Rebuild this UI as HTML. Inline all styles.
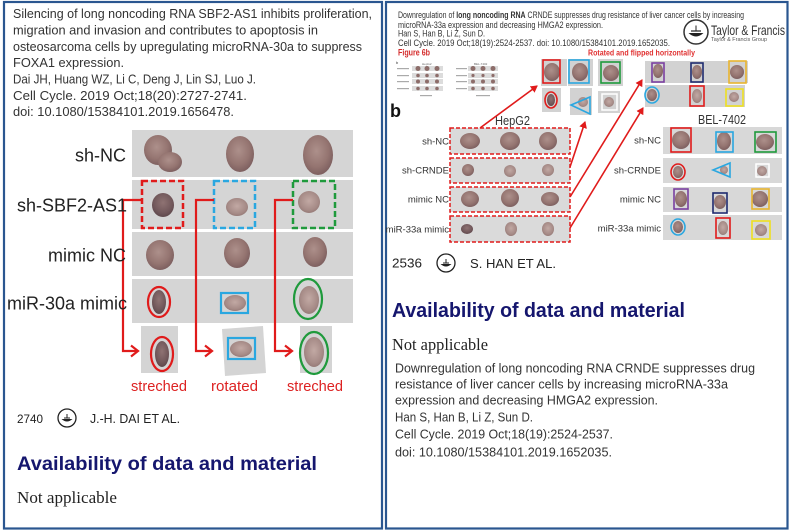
<!DOCTYPE html>
<html><head><meta charset="utf-8"><style>html,body{margin:0;padding:0;background:#fff;width:800px;height:532px;overflow:hidden}svg{display:block}</style></head><body>
<svg width="800" height="532" viewBox="0 0 800 532" xmlns="http://www.w3.org/2000/svg" font-family="'Liberation Sans', Arial, sans-serif">
<defs>
<radialGradient id="t" cx="45%" cy="40%" r="60%"><stop offset="0" stop-color="#ad908b"/><stop offset="0.65" stop-color="#957571"/><stop offset="1" stop-color="#7e6060"/></radialGradient>
<radialGradient id="tl" cx="50%" cy="45%" r="60%"><stop offset="0" stop-color="#c2a9a4"/><stop offset="0.7" stop-color="#a68b87"/><stop offset="1" stop-color="#917572"/></radialGradient>
<radialGradient id="td" cx="50%" cy="40%" r="60%"><stop offset="0" stop-color="#8f7373"/><stop offset="0.7" stop-color="#72585b"/><stop offset="1" stop-color="#5f484c"/></radialGradient>
<marker id="ah" markerWidth="8" markerHeight="8" refX="6" refY="4" orient="auto" markerUnits="userSpaceOnUse"><path d="M0,0 L7,4 L0,8 Z" fill="#e01b1b"/></marker>
</defs>
<rect width="800" height="532" fill="#fff"/>

<!-- panel borders -->
<rect x="4" y="2" width="378" height="526.5" fill="none" stroke="#2a5690" stroke-width="2.2"/>
<rect x="386" y="2" width="401.5" height="526.5" fill="none" stroke="#2a5690" stroke-width="2.2"/>

<!-- LEFT PANEL text -->
<g font-size="13" fill="#333">
<text x="13" y="18" textLength="359" lengthAdjust="spacingAndGlyphs">Silencing of long noncoding RNA SBF2-AS1 inhibits proliferation,</text>
<text x="13" y="34.5" textLength="305" lengthAdjust="spacingAndGlyphs">migration and invasion and contributes to apoptosis  in</text>
<text x="13" y="51" textLength="349" lengthAdjust="spacingAndGlyphs">osteosarcoma cells by upregulating microRNA-30a to suppress</text>
<text x="13" y="67" textLength="111" lengthAdjust="spacingAndGlyphs">FOXA1 expression.</text>
<text x="13" y="83.5" textLength="243" lengthAdjust="spacingAndGlyphs">Dai JH, Huang WZ, Li C, Deng J, Lin SJ, Luo J.</text>
<text x="13" y="100" textLength="234" lengthAdjust="spacingAndGlyphs">Cell Cycle. 2019 Oct;18(20):2727-2741.</text>
<text x="13" y="116" textLength="221" lengthAdjust="spacingAndGlyphs">doi: 10.1080/15384101.2019.1656478.</text>
</g>

<!-- left gray rows -->
<g fill="#d5d5d5">
<rect x="132" y="130" width="221" height="47"/>
<rect x="132" y="180" width="221" height="49"/>
<rect x="132" y="232" width="221" height="44"/>
<rect x="132" y="279" width="221" height="44"/>
</g>
<!-- row 1 blobs -->
<ellipse cx="158" cy="150" rx="14" ry="15" fill="url(#t)"/>
<ellipse cx="170" cy="162" rx="12" ry="10" fill="url(#t)"/>
<ellipse cx="240" cy="154" rx="14" ry="18" fill="url(#t)"/>
<ellipse cx="318" cy="155" rx="15" ry="20" fill="url(#t)"/>
<!-- row 2 blobs -->
<ellipse cx="163" cy="205" rx="11" ry="12" fill="url(#td)"/>
<ellipse cx="237" cy="207" rx="11" ry="9" fill="url(#tl)"/>
<ellipse cx="309" cy="202" rx="11" ry="11" fill="url(#tl)"/>
<!-- row 3 blobs -->
<ellipse cx="160" cy="255" rx="14" ry="15" fill="url(#t)"/>
<ellipse cx="237" cy="253" rx="13" ry="15" fill="url(#t)"/>
<ellipse cx="315" cy="252" rx="12" ry="15" fill="url(#t)"/>
<!-- row 4 blobs -->
<ellipse cx="159" cy="302" rx="7" ry="12" fill="url(#td)"/>
<ellipse cx="235" cy="303" rx="11" ry="8" fill="url(#tl)"/>
<ellipse cx="309" cy="300" rx="10" ry="14" fill="url(#tl)"/>

<!-- dashed boxes -->
<g fill="none" stroke-width="2.5" stroke-dasharray="6 3">
<rect x="142" y="181" width="41" height="47" stroke="#e01b1b"/>
<rect x="214" y="181" width="41" height="47" stroke="#2aa7e0"/>
<rect x="293" y="181" width="42" height="47" stroke="#1f9a3c"/>
</g>
<!-- row 4 annotations -->
<ellipse cx="159" cy="302" rx="11" ry="15" fill="none" stroke="#e01b1b" stroke-width="2.2"/>
<rect x="221" y="293" width="27" height="20" fill="none" stroke="#2aa7e0" stroke-width="2.2"/>
<ellipse cx="308" cy="299" rx="14" ry="20" fill="none" stroke="#1f9a3c" stroke-width="2.2"/>

<!-- stretched tiles -->
<rect x="141" y="326" width="37" height="47" fill="#d4d4d4"/>
<polygon points="222,329 263,326 266,373 225,376" fill="#d4d4d4"/>
<rect x="300" y="326" width="32" height="47" fill="#d4d4d4"/>
<ellipse cx="162" cy="354" rx="7" ry="13" fill="url(#td)"/>
<ellipse cx="241" cy="349" rx="11" ry="8" fill="url(#tl)"/>
<ellipse cx="314" cy="352" rx="10" ry="15" fill="url(#tl)"/>
<ellipse cx="162" cy="354" rx="11" ry="17" fill="none" stroke="#e01b1b" stroke-width="2.2"/>
<rect x="228" y="338" width="27" height="21" fill="none" stroke="#2aa7e0" stroke-width="2.2"/>
<ellipse cx="314" cy="353" rx="14" ry="21" fill="none" stroke="#1f9a3c" stroke-width="2.2"/>

<!-- left arrows -->
<g fill="none" stroke="#e01b1b" stroke-width="2.2">
<path d="M142 200 H123 V351 H137"/><path d="M131 345.5 L138 351 L131 356.5"/>
<path d="M214 200 H196 V351 H211"/><path d="M205 345.5 L212 351 L205 356.5"/>
<path d="M293 200 H275 V351 H291"/><path d="M285 345.5 L292 351 L285 356.5"/>
</g>

<!-- left labels -->
<g font-size="18" fill="#222" text-anchor="end">
<text x="126" y="161.5">sh-NC</text>
<text x="127" y="211.5">sh-SBF2-AS1</text>
<text x="126" y="261.5">mimic NC</text>
<text x="127" y="309.5">miR-30a mimic</text>
</g>
<g font-size="15" fill="#dd2222">
<text x="131" y="391" textLength="56" lengthAdjust="spacingAndGlyphs">streched</text>
<text x="211" y="391" textLength="47" lengthAdjust="spacingAndGlyphs">rotated</text>
<text x="287" y="391" textLength="56" lengthAdjust="spacingAndGlyphs">streched</text>
</g>

<!-- left footer -->
<text x="17" y="423" font-size="12" fill="#222" textLength="26" lengthAdjust="spacingAndGlyphs">2740</text>
<g transform="translate(67,418)">
<circle r="9" fill="none" stroke="#222" stroke-width="1.3"/>
<path d="M-5.5 1 Q0 6 5.5 1 Z" fill="#222"/><path d="M-3 0 L3 0" stroke="#222" stroke-width="1"/><path d="M0 -4 V0" stroke="#222" stroke-width="1"/>
</g>
<text x="90" y="423" font-size="13" fill="#222" textLength="90" lengthAdjust="spacingAndGlyphs">J.-H. DAI ET AL.</text>
<text x="17" y="470" font-size="19" font-weight="bold" fill="#15166e" textLength="300" lengthAdjust="spacingAndGlyphs">Availability of data and material</text>
<text x="17" y="503" font-size="17" fill="#222" font-family="'Liberation Serif', serif" textLength="100" lengthAdjust="spacingAndGlyphs">Not applicable</text>

<!-- RIGHT PANEL top text -->
<g font-size="9" fill="#333">
<text x="398" y="18" textLength="346" lengthAdjust="spacingAndGlyphs">Downregulation of <tspan font-weight="bold">long noncoding RNA</tspan> CRNDE suppresses drug resistance of liver cancer cells by increasing</text>
<text x="398" y="28" textLength="205" lengthAdjust="spacingAndGlyphs">microRNA-33a expression and decreasing HMGA2 expression.</text>
<text x="398" y="36.5" textLength="87" lengthAdjust="spacingAndGlyphs">Han S, Han B, Li Z, Sun D.</text>
<text x="398" y="46" textLength="272" lengthAdjust="spacingAndGlyphs">Cell Cycle. 2019 Oct;18(19):2524-2537. doi: 10.1080/15384101.2019.1652035.</text>
</g>
<text x="398" y="55.5" font-size="9" font-weight="bold" fill="#d42a2a" textLength="32" lengthAdjust="spacingAndGlyphs">Figure 6b</text>
<text x="588" y="55.5" font-size="8.5" font-weight="bold" fill="#e03030" textLength="107" lengthAdjust="spacingAndGlyphs">Rotated and flipped horizontally</text>

<!-- T&F logo -->
<g transform="translate(696,32)">
<circle r="12" fill="none" stroke="#333" stroke-width="1.5"/>
<path d="M-7.5 1 Q0 8 7.5 1 Z" fill="#222"/><path d="M-5 -1 L5 -1" stroke="#222" stroke-width="1.2"/><path d="M0 -6.5 V-1" stroke="#222" stroke-width="1"/>
</g>
<text x="711" y="35" font-size="14" fill="#333" textLength="74" lengthAdjust="spacingAndGlyphs">Taylor &amp; Francis</text>
<text x="711" y="41" font-size="5.5" fill="#555" textLength="56" lengthAdjust="spacingAndGlyphs">Taylor &amp; Francis Group</text>

<!-- mini figure 6b -->
<g>
<text x="396" y="64" font-size="4" fill="#333">b</text>
<text x="422" y="65" font-size="3" fill="#666">HepG2</text>
<text x="474" y="65" font-size="3" fill="#666">BEL-7402</text>
<g fill="#dcdcdc">
<rect x="412" y="66" width="31" height="5"/><rect x="412" y="73" width="31" height="5"/><rect x="412" y="79" width="31" height="5"/><rect x="412" y="86" width="31" height="5"/>
<rect x="468" y="66" width="30" height="5"/><rect x="468" y="73" width="30" height="5"/><rect x="468" y="79" width="30" height="5"/><rect x="468" y="86" width="30" height="5"/>
</g>
<g fill="#aaa">
<rect x="397" y="68" width="12" height="1.2"/><rect x="397" y="75" width="12" height="1.2"/><rect x="397" y="81" width="12" height="1.2"/><rect x="397" y="88" width="12" height="1.2"/>
<rect x="456" y="68" width="11" height="1.2"/><rect x="456" y="75" width="11" height="1.2"/><rect x="456" y="81" width="11" height="1.2"/><rect x="456" y="88" width="11" height="1.2"/>
<rect x="420" y="95" width="12" height="1.2"/><rect x="476" y="95" width="14" height="1.2"/>
</g>
<g fill="#8d6d6a">
<circle cx="418" cy="68.5" r="2.5"/><circle cx="427" cy="68.5" r="2.5"/><circle cx="437" cy="68.5" r="2.5"/>
<circle cx="418" cy="75.5" r="1.8"/><circle cx="427" cy="75.5" r="1.8"/><circle cx="437" cy="75.5" r="1.8"/>
<circle cx="418" cy="81.5" r="2"/><circle cx="427" cy="81.5" r="2"/><circle cx="437" cy="81.5" r="2"/>
<circle cx="418" cy="88.5" r="1.8"/><circle cx="427" cy="88.5" r="1.8"/><circle cx="437" cy="88.5" r="1.8"/>
<circle cx="473" cy="68.5" r="2.5"/><circle cx="483" cy="68.5" r="2.5"/><circle cx="493" cy="68.5" r="2.5"/>
<circle cx="473" cy="75.5" r="1.6"/><circle cx="483" cy="75.5" r="1.6"/><circle cx="493" cy="75.5" r="1.6"/>
<circle cx="473" cy="81.5" r="2"/><circle cx="483" cy="81.5" r="2"/><circle cx="493" cy="81.5" r="2"/>
<circle cx="473" cy="88.5" r="1.8"/><circle cx="483" cy="88.5" r="1.8"/><circle cx="493" cy="88.5" r="1.8"/>
</g>
</g>

<text x="390" y="117" font-size="18" font-weight="bold" fill="#111">b</text>

<!-- top zoom tiles -->
<g fill="#d2d2d2">
<rect x="541" y="59" width="26" height="27"/>
<rect x="568" y="59" width="25" height="27"/>
<rect x="598" y="59" width="25" height="27"/>
<rect x="542" y="88" width="19" height="24"/>
<rect x="570" y="88" width="22" height="27"/>
<rect x="598" y="91" width="22" height="22"/>
<rect x="645" y="61" width="103" height="22"/>
<rect x="645" y="85" width="100" height="22"/>
</g>
<rect x="602" y="94" width="15" height="16" fill="none" stroke="#fff" stroke-width="1.5"/>
<ellipse cx="552" cy="72" rx="8" ry="9" fill="url(#t)"/>
<ellipse cx="580" cy="72" rx="8" ry="9" fill="url(#t)"/>
<ellipse cx="611" cy="73" rx="8" ry="8" fill="url(#t)"/>
<ellipse cx="551" cy="100" rx="4" ry="6" fill="url(#td)"/>
<ellipse cx="583" cy="102" rx="5" ry="5" fill="url(#tl)"/>
<ellipse cx="609" cy="102" rx="5" ry="5" fill="url(#tl)"/>
<ellipse cx="658" cy="71" rx="5" ry="7" fill="url(#t)"/>
<ellipse cx="697" cy="72" rx="5" ry="7" fill="url(#t)"/>
<ellipse cx="737" cy="72" rx="7" ry="7" fill="url(#t)"/>
<ellipse cx="652" cy="95" rx="5" ry="6" fill="url(#t)"/>
<ellipse cx="697" cy="96" rx="5" ry="7" fill="url(#tl)"/>
<ellipse cx="734" cy="97" rx="5" ry="5" fill="url(#tl)"/>
<g fill="none" stroke-width="1.6">
<rect x="543" y="60" width="17" height="23" stroke="#e01b1b"/>
<rect x="569" y="60" width="20" height="23" stroke="#2aa7e0"/>
<rect x="601" y="62" width="19" height="21" stroke="#1f9a3c"/>
<ellipse cx="551" cy="100" rx="6" ry="8" stroke="#e01b1b"/>
<polygon points="571,105 590,97 590,114" stroke="#2aa7e0"/>
<rect x="652" y="63" width="12" height="19" stroke="#7a3fa0"/>
<rect x="691" y="63" width="12" height="19" stroke="#1e2a6e"/>
<rect x="729" y="61" width="17" height="22" stroke="#e8b530"/>
<ellipse cx="652" cy="95" rx="7" ry="8" stroke="#2aa7e0"/>
<rect x="690" y="86" width="14" height="20" stroke="#e01b1b"/>
<rect x="726" y="89" width="17" height="17" stroke="#eee020"/>
</g>

<text x="495" y="125" font-size="13" fill="#333" textLength="35" lengthAdjust="spacingAndGlyphs">HepG2</text>
<text x="698" y="124" font-size="13" fill="#333" textLength="48" lengthAdjust="spacingAndGlyphs">BEL-7402</text>

<!-- HepG2 rows -->
<g fill="#dadada" stroke="#e01b1b" stroke-width="1.5" stroke-dasharray="4 2">
<rect x="450" y="128" width="120" height="26"/>
<rect x="450" y="158" width="120" height="25"/>
<rect x="450" y="187" width="120" height="25"/>
<rect x="450" y="216" width="120" height="26"/>
</g>
<ellipse cx="470" cy="141" rx="10" ry="8" fill="url(#t)"/>
<ellipse cx="510" cy="141" rx="10" ry="9" fill="url(#t)"/>
<ellipse cx="548" cy="141" rx="9" ry="9" fill="url(#t)"/>
<ellipse cx="468" cy="170" rx="6" ry="6" fill="url(#t)"/>
<ellipse cx="510" cy="171" rx="6" ry="6" fill="url(#tl)"/>
<ellipse cx="548" cy="170" rx="6" ry="6" fill="url(#tl)"/>
<ellipse cx="470" cy="199" rx="9" ry="8" fill="url(#t)"/>
<ellipse cx="510" cy="198" rx="9" ry="9" fill="url(#t)"/>
<ellipse cx="550" cy="199" rx="9" ry="7" fill="url(#t)"/>
<ellipse cx="467" cy="229" rx="6" ry="5" fill="url(#td)"/>
<ellipse cx="511" cy="229" rx="6" ry="7" fill="url(#tl)"/>
<ellipse cx="548" cy="229" rx="6" ry="7" fill="url(#tl)"/>
<g font-size="9.5" fill="#333" text-anchor="end">
<text x="449" y="144.5">sh-NC</text>
<text x="449" y="173.5">sh-CRNDE</text>
<text x="449" y="202.5">mimic NC</text>
<text x="449" y="232.5">miR-33a mimic</text>
</g>

<!-- BEL rows -->
<g fill="#d8d8d8">
<rect x="663" y="127" width="119" height="27"/>
<rect x="663" y="158" width="119" height="25"/>
<rect x="663" y="187" width="119" height="25"/>
<rect x="663" y="215" width="119" height="25"/>
</g>
<rect x="756" y="164" width="13" height="13" fill="none" stroke="#fff" stroke-width="1.5"/>
<ellipse cx="681" cy="140" rx="9" ry="9" fill="url(#t)"/>
<ellipse cx="724" cy="141" rx="7" ry="9" fill="url(#t)"/>
<ellipse cx="765" cy="142" rx="9" ry="8" fill="url(#t)"/>
<ellipse cx="678" cy="172" rx="5" ry="6" fill="url(#t)"/>
<ellipse cx="724" cy="170" rx="4" ry="4" fill="url(#tl)"/>
<ellipse cx="762" cy="171" rx="5" ry="5" fill="url(#tl)"/>
<ellipse cx="681" cy="199" rx="6" ry="8" fill="url(#t)"/>
<ellipse cx="720" cy="202" rx="6" ry="7" fill="url(#t)"/>
<ellipse cx="760" cy="199" rx="8" ry="8" fill="url(#t)"/>
<ellipse cx="678" cy="227" rx="5" ry="6" fill="url(#t)"/>
<ellipse cx="723" cy="228" rx="5" ry="7" fill="url(#tl)"/>
<ellipse cx="761" cy="230" rx="6" ry="6" fill="url(#tl)"/>
<g fill="none" stroke-width="1.6">
<rect x="671" y="128" width="20" height="24" stroke="#e01b1b"/>
<rect x="716" y="132" width="17" height="20" stroke="#2aa7e0"/>
<rect x="755" y="132" width="21" height="20" stroke="#1f9a3c"/>
<ellipse cx="678" cy="172" rx="7" ry="8" stroke="#e01b1b"/>
<polygon points="713,170 730,163 730,177" stroke="#2aa7e0"/>
<rect x="674" y="189" width="14" height="20" stroke="#7a3fa0"/>
<rect x="713" y="193" width="14" height="20" stroke="#1e2a6e"/>
<rect x="752" y="189" width="17" height="20" stroke="#e8b530"/>
<ellipse cx="678" cy="227" rx="7" ry="8" stroke="#2aa7e0"/>
<rect x="716" y="218" width="14" height="20" stroke="#e01b1b"/>
<rect x="752" y="221" width="18" height="18" stroke="#eee020"/>
</g>
<g font-size="9.5" fill="#333" text-anchor="end">
<text x="661" y="143.5">sh-NC</text>
<text x="661" y="173.5">sh-CRNDE</text>
<text x="661" y="202.5">mimic NC</text>
<text x="661" y="231.5">miR-33a mimic</text>
</g>

<!-- right arrows -->
<g stroke="#e01b1b" stroke-width="1.6" fill="none" marker-end="url(#ah)">
<line x1="480" y1="128" x2="537" y2="86"/>
<line x1="570" y1="167" x2="585" y2="122"/>
<line x1="570" y1="197" x2="642" y2="80"/>
<line x1="570" y1="228" x2="643" y2="108"/>
</g>

<!-- right footer -->
<text x="392" y="267.5" font-size="13" fill="#222" textLength="30" lengthAdjust="spacingAndGlyphs">2536</text>
<g transform="translate(446,263)">
<circle r="9" fill="none" stroke="#222" stroke-width="1.3"/>
<path d="M-5.5 1 Q0 6 5.5 1 Z" fill="#222"/><path d="M-3 0 L3 0" stroke="#222" stroke-width="1"/><path d="M0 -4 V0" stroke="#222" stroke-width="1"/>
</g>
<text x="470" y="268" font-size="13" fill="#222" textLength="86" lengthAdjust="spacingAndGlyphs">S. HAN ET AL.</text>
<text x="392" y="317" font-size="20" font-weight="bold" fill="#15166e" textLength="293" lengthAdjust="spacingAndGlyphs">Availability of data and material</text>
<text x="392" y="350" font-size="17" fill="#222" font-family="'Liberation Serif', serif" textLength="96" lengthAdjust="spacingAndGlyphs">Not applicable</text>
<g font-size="13" fill="#333">
<text x="395" y="372.5" textLength="360" lengthAdjust="spacingAndGlyphs">Downregulation of long noncoding RNA CRNDE suppresses  drug</text>
<text x="395" y="388.5" textLength="333" lengthAdjust="spacingAndGlyphs">resistance  of liver cancer cells by increasing microRNA-33a</text>
<text x="395" y="404.5" textLength="263" lengthAdjust="spacingAndGlyphs">expression and decreasing HMGA2 expression.</text>
<text x="395" y="421.5" textLength="138" lengthAdjust="spacingAndGlyphs">Han S, Han B, Li Z, Sun D.</text>
<text x="395" y="438.5" textLength="218" lengthAdjust="spacingAndGlyphs">Cell Cycle. 2019 Oct;18(19):2524-2537.</text>
<text x="395" y="456.5" textLength="217" lengthAdjust="spacingAndGlyphs">doi: 10.1080/15384101.2019.1652035.</text>
</g>
</svg>
</body></html>
